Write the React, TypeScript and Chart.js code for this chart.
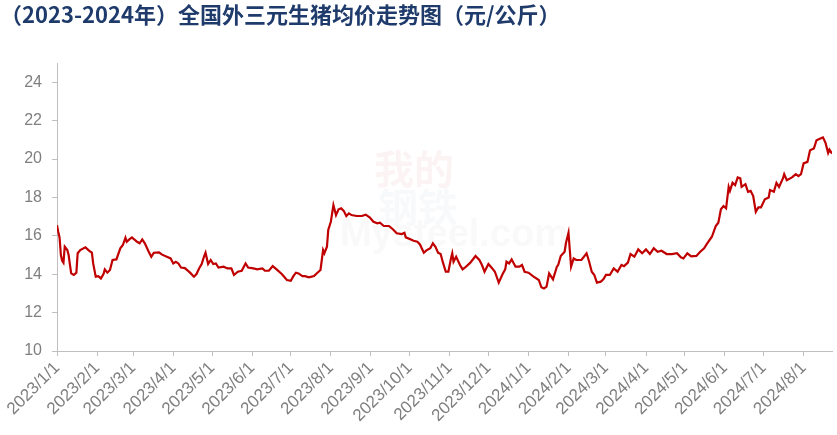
import { useEffect, useRef } from 'react';
import { Chart, registerables } from 'chart.js';

Chart.register(...registerables);

const TITLE = '（2023-2024年）全国外三元生猪均价走势图（元/公斤）';

const DATES = [
  '2023/1/1', '2023/1/2', '2023/1/3', '2023/1/4', '2023/1/5', '2023/1/6', '2023/1/7', '2023/1/9', '2023/1/10', '2023/1/11',
  '2023/1/12', '2023/1/14', '2023/1/16', '2023/1/17', '2023/1/19', '2023/1/23', '2023/1/26', '2023/1/28', '2023/1/29', '2023/1/31',
  '2023/2/2', '2023/2/4', '2023/2/6', '2023/2/7', '2023/2/9', '2023/2/11', '2023/2/13', '2023/2/16', '2023/2/19', '2023/2/21',
  '2023/2/23', '2023/2/24', '2023/2/26', '2023/2/28', '2023/3/4', '2023/3/6', '2023/3/8', '2023/3/10', '2023/3/13', '2023/3/15',
  '2023/3/17', '2023/3/21', '2023/3/23', '2023/3/27', '2023/3/30', '2023/4/1', '2023/4/3', '2023/4/5', '2023/4/7', '2023/4/10',
  '2023/4/14', '2023/4/17', '2023/4/19', '2023/4/21', '2023/4/23', '2023/4/25', '2023/4/26', '2023/4/28', '2023/4/30', '2023/5/2',
  '2023/5/4', '2023/5/6', '2023/5/10', '2023/5/13', '2023/5/16', '2023/5/18', '2023/5/21', '2023/5/24', '2023/5/27', '2023/5/29',
  '2023/6/2', '2023/6/5', '2023/6/9', '2023/6/11', '2023/6/14', '2023/6/17', '2023/6/20', '2023/6/24', '2023/6/28', '2023/7/1',
  '2023/7/3', '2023/7/5', '2023/7/7', '2023/7/10', '2023/7/12', '2023/7/15', '2023/7/19', '2023/7/21', '2023/7/24', '2023/7/26',
  '2023/7/27', '2023/7/29', '2023/7/30', '2023/8/1', '2023/8/3', '2023/8/5', '2023/8/7', '2023/8/9', '2023/8/11', '2023/8/13',
  '2023/8/15', '2023/8/17', '2023/8/21', '2023/8/25', '2023/8/28', '2023/8/31', '2023/9/3', '2023/9/6', '2023/9/8', '2023/9/11',
  '2023/9/15', '2023/9/18', '2023/9/21', '2023/9/25', '2023/9/27', '2023/9/28', '2023/10/2', '2023/10/4', '2023/10/7', '2023/10/9',
  '2023/10/12', '2023/10/14', '2023/10/17', '2023/10/19', '2023/10/21', '2023/10/23', '2023/10/25', '2023/10/27', '2023/10/29', '2023/10/31',
  '2023/11/2', '2023/11/3', '2023/11/4', '2023/11/6', '2023/11/9', '2023/11/11', '2023/11/13', '2023/11/17', '2023/11/21', '2023/11/24',
  '2023/11/26', '2023/11/28', '2023/12/1', '2023/12/4', '2023/12/6', '2023/12/9', '2023/12/12', '2023/12/14', '2023/12/15', '2023/12/17',
  '2023/12/19', '2023/12/22', '2023/12/25', '2023/12/27', '2023/12/29', '2024/1/1', '2024/1/5', '2024/1/9', '2024/1/11', '2024/1/13',
  '2024/1/15', '2024/1/17', '2024/1/20', '2024/1/23', '2024/1/24', '2024/1/26', '2024/1/29', '2024/1/30', '2024/2/1', '2024/2/2',
  '2024/2/3', '2024/2/5', '2024/2/7', '2024/2/11', '2024/2/15', '2024/2/17', '2024/2/19', '2024/2/21', '2024/2/23', '2024/2/26',
  '2024/2/28', '2024/3/1', '2024/3/4', '2024/3/7', '2024/3/10', '2024/3/13', '2024/3/15', '2024/3/18', '2024/3/20', '2024/3/23',
  '2024/3/26', '2024/3/29', '2024/4/1', '2024/4/4', '2024/4/7', '2024/4/10', '2024/4/13', '2024/4/17', '2024/4/21', '2024/4/25',
  '2024/4/28', '2024/4/30', '2024/5/3', '2024/5/6', '2024/5/10', '2024/5/13', '2024/5/16', '2024/5/18', '2024/5/22', '2024/5/25',
  '2024/5/27', '2024/5/29', '2024/5/31', '2024/6/2', '2024/6/4', '2024/6/5', '2024/6/7', '2024/6/9', '2024/6/11', '2024/6/13',
  '2024/6/14', '2024/6/17', '2024/6/19', '2024/6/21', '2024/6/23', '2024/6/25', '2024/6/27', '2024/6/29', '2024/7/2', '2024/7/5',
  '2024/7/6', '2024/7/9', '2024/7/11', '2024/7/13', '2024/7/16', '2024/7/17', '2024/7/19', '2024/7/23', '2024/7/26', '2024/7/28',
  '2024/7/30', '2024/8/1', '2024/8/4', '2024/8/6', '2024/8/9', '2024/8/11', '2024/8/14', '2024/8/16', '2024/8/18', '2024/8/20',
  '2024/8/21', '2024/8/23',
];

const PRICES = [
  16.55, 16.2, 15.9, 15.0, 14.7, 14.6, 15.43, 15.26, 15.0, 14.5,
  14.04, 13.96, 14.08, 15.09, 15.26, 15.4, 15.22, 15.12, 14.56, 13.87,
  13.9, 13.78, 14.01, 14.25, 14.08, 14.22, 14.74, 14.77, 15.35, 15.52,
  15.9, 15.69, 15.81, 15.92, 15.69, 15.61, 15.81, 15.61, 15.17, 14.91,
  15.12, 15.14, 15.03, 14.91, 14.82, 14.56, 14.65, 14.56, 14.35, 14.32,
  14.08, 13.87, 14.01, 14.3, 14.53, 14.95, 15.12, 14.53, 14.74, 14.53,
  14.56, 14.35, 14.39, 14.3, 14.3, 13.96, 14.13, 14.18, 14.56, 14.35,
  14.3, 14.25, 14.3, 14.18, 14.18, 14.42, 14.25, 14.01, 13.7, 13.66,
  13.9, 14.08, 14.04, 13.9, 13.9, 13.84, 13.9, 14.04, 14.22, 15.26,
  15.09, 15.43, 16.3, 16.73, 17.6, 17.08, 17.38, 17.43, 17.3, 17.03,
  17.17, 17.08, 17.03, 17.03, 17.1, 16.96, 16.73, 16.65, 16.68, 16.51,
  16.51, 16.34, 16.13, 16.09, 16.16, 15.92, 15.81, 15.74, 15.69, 15.55,
  15.12, 15.24, 15.35, 15.61, 15.43, 15.12, 15.05, 14.56, 14.13, 14.13,
  14.82, 15.09, 14.65, 14.91, 14.48, 14.25, 14.35, 14.6, 14.95, 14.74,
  14.48, 14.13, 14.53, 14.3, 14.13, 13.56, 14.01, 14.25, 14.65, 14.56,
  14.77, 14.39, 14.39, 14.48, 14.13, 14.08, 13.87, 13.7, 13.32, 13.26,
  13.35, 14.04, 13.73, 14.39, 14.48, 14.95, 15.17, 15.61, 16.16, 15.26,
  14.39, 14.82, 14.74, 14.74, 15.09, 14.65, 14.13, 13.96, 13.56, 13.61,
  13.73, 13.96, 13.96, 14.3, 14.13, 14.48, 14.42, 14.6, 15.05, 14.91,
  15.29, 15.09, 15.29, 15.05, 15.35, 15.17, 15.22, 15.05, 15.05, 15.09,
  14.88, 14.82, 15.09, 14.93, 14.95, 15.17, 15.35, 15.57, 15.95, 16.51,
  16.68, 17.38, 17.55, 17.43, 18.55, 18.34, 18.76, 18.64, 19.04, 18.99,
  18.55, 18.69, 18.29, 18.34, 18.07, 17.25, 17.48, 17.48, 17.9, 18.0,
  18.38, 18.29, 18.76, 18.55, 18.99, 19.21, 18.9, 19.04, 19.21, 19.11,
  19.21, 19.77, 19.85, 20.46, 20.55, 20.98, 21.07, 21.12, 20.84, 20.32,
  20.49, 20.28,
];

const X_TICK_LABELS = [
  '2023/1/1', '2023/2/1', '2023/3/1', '2023/4/1', '2023/5/1', '2023/6/1', '2023/7/1',
  '2023/8/1', '2023/9/1', '2023/10/1', '2023/11/1', '2023/12/1', '2024/1/1', '2024/2/1',
  '2024/3/1', '2024/4/1', '2024/5/1', '2024/6/1', '2024/7/1', '2024/8/1',
];

const Y_TICKS = [10, 12, 14, 16, 18, 20, 22, 24];
const Y_MIN = 10;
const Y_MAX = 25;
const X_START = '2023/1/1';
const X_END = '2024/8/23';

function toUTC(s: string): number {
  const [y, m, d] = s.split('/').map(Number);
  return Date.UTC(y, m - 1, d);
}
function dayIndex(s: string): number {
  return Math.round((toUTC(s) - toUTC(X_START)) / 86400000);
}

const watermarkPlugin = {
  id: 'watermark',
  beforeDatasetsDraw(chart: any) {
    const ctx = chart.ctx;
    ctx.save();
    ctx.textAlign = 'center';
    ctx.textBaseline = 'middle';
    ctx.globalAlpha = 0.045;
    ctx.fillStyle = '#c00000';
    ctx.font = 'bold 40px "Noto Sans CJK SC"';
    ctx.fillText('我的', 414, 169);
    ctx.fillStyle = '#5a6e96';
    ctx.fillText('钢铁', 418, 207);
    ctx.globalAlpha = 0.04;
    ctx.fillStyle = '#6b6b6b';
    ctx.font = 'bold 38px "Liberation Sans", Arial, sans-serif';
    ctx.fillText('Mysteel.com', 454, 236);
    ctx.restore();
  },
};

export default function App() {
  const canvasRef = useRef<HTMLCanvasElement | null>(null);

  useEffect(() => {
    const canvas = canvasRef.current;
    if (!canvas) return;
    const points = DATES.map((d, i) => ({ x: dayIndex(d), y: PRICES[i] }));
    const tickValues = X_TICK_LABELS.map(dayIndex);
    const gray = '#bfbfbf';
    const labelColor = '#7f7f7f';
    const chart = new Chart(canvas, {
      type: 'line',
      data: {
        datasets: [
          {
            data: points,
            borderColor: '#c00000',
            backgroundColor: '#c00000',
            borderWidth: 2.2,
            pointRadius: 0,
            tension: 0,
            fill: false,
          },
        ],
      },
      options: {
        animation: false,
        responsive: false,
        maintainAspectRatio: false,
        layout: { padding: { left: 0, right: 5, top: 0, bottom: 0 } },
        plugins: {
          legend: { display: false },
          tooltip: { enabled: false },
          title: {
            display: true,
            text: TITLE,
            align: 'start',
            color: '#1f3b6b',
            font: { family: '"Noto Sans CJK SC", sans-serif', size: 22, weight: 'bold', lineHeight: 1.2 },
            padding: { top: 1, bottom: 35.6 },
          },
        },
        scales: {
          x: {
            type: 'linear',
            min: 0,
            max: dayIndex(X_END),
            afterBuildTicks: (s: any) => {
              s.ticks = tickValues.map((v) => ({ value: v }));
            },
            afterFit: (s: any) => {
              s.height = 84;
            },
            ticks: {
              autoSkip: false,
              minRotation: 45,
              maxRotation: 45,
              color: labelColor,
              padding: 2,
              font: { family: '"Liberation Sans", Arial, sans-serif', size: 17 },
              callback: (_v: any, i: number) => X_TICK_LABELS[i],
            },
            grid: { drawOnChartArea: false, color: gray, tickLength: 5 },
            border: { color: gray, width: 1 },
          },
          y: {
            min: Y_MIN,
            max: Y_MAX,
            afterBuildTicks: (s: any) => {
              s.ticks = Y_TICKS.map((v) => ({ value: v }));
            },
            afterFit: (s: any) => {
              s.width = 57;
            },
            ticks: {
              color: labelColor,
              padding: 10,
              font: { family: '"Liberation Sans", Arial, sans-serif', size: 16 },
            },
            grid: { drawOnChartArea: false, color: gray, tickLength: 5 },
            border: { color: gray, width: 1 },
          },
        },
      },
      plugins: [watermarkPlugin],
    });
    return () => chart.destroy();
  }, []);

  return (
    <div style={{ position: 'fixed', left: 0, top: 0, width: 837, height: 435, background: '#fff' }}>
      <canvas ref={canvasRef} width={837} height={435} style={{ display: 'block' }} />
    </div>
  );
}
